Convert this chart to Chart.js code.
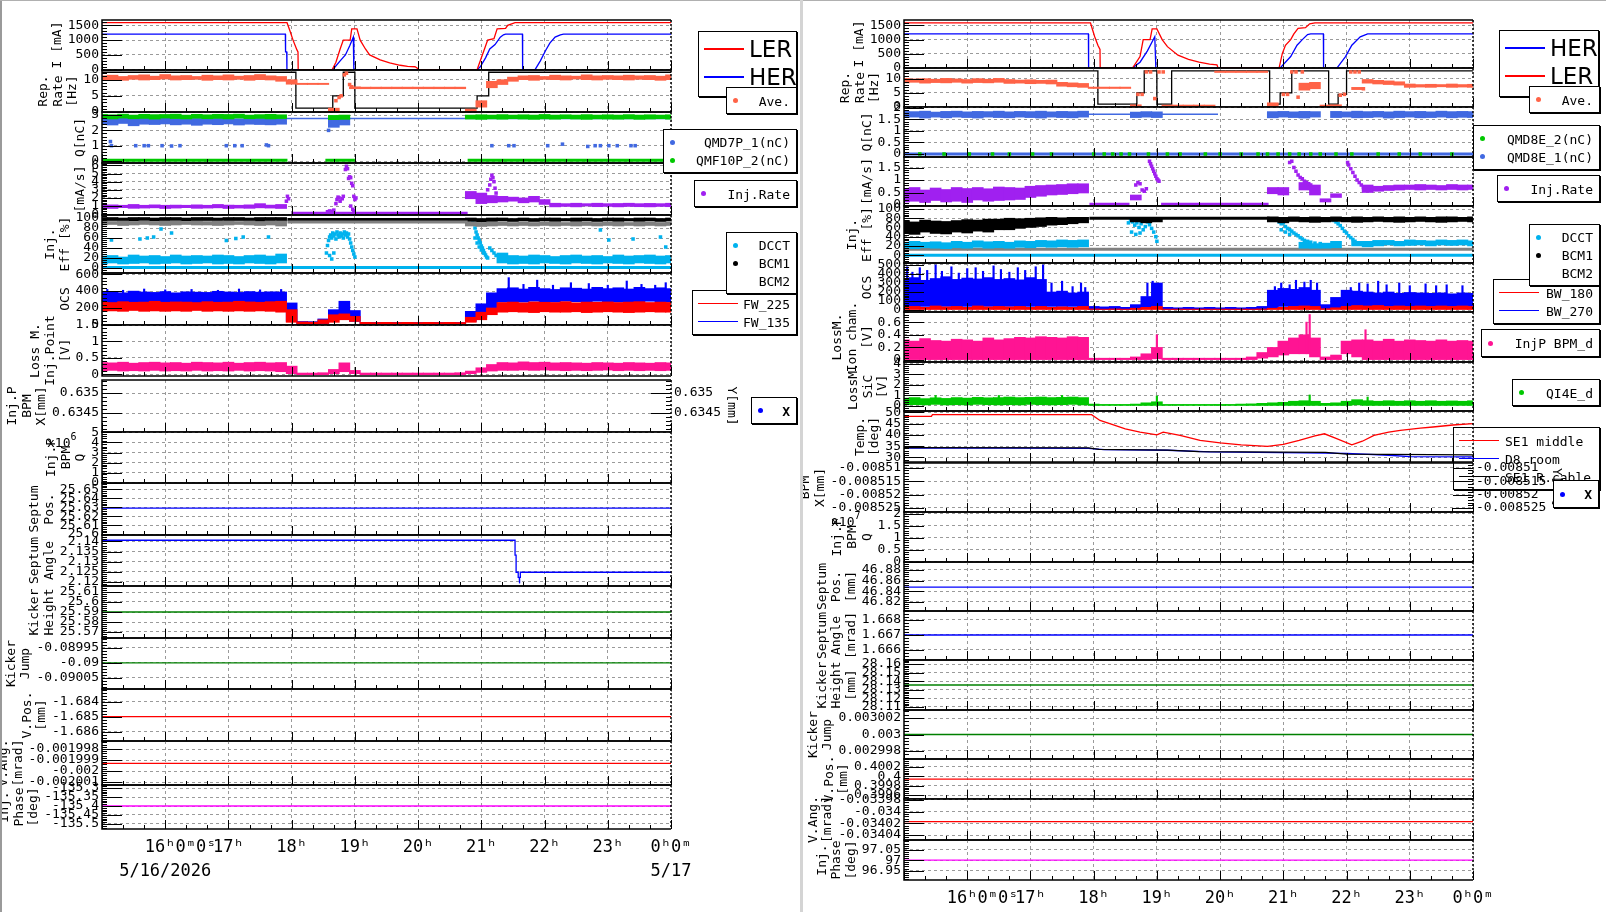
<!DOCTYPE html>
<html>
<head>
<meta charset="utf-8">
<script src="https://cdn.jsdelivr.net/npm/chart.js@4.4.1/dist/chart.umd.min.js"></script>
<style>
  html, body { margin: 0; padding: 0; background: #fff; width: 1606px; height: 912px; overflow: hidden; }
  .col { position: absolute; top: 0; height: 912px; overflow: hidden; }
  .col canvas { position: absolute; }
  .lg { position: absolute; background: #fff; border: 1px solid #000; box-shadow: 1px 1px 0 #000; box-sizing: border-box; color: #000; }
  .lg.clear { background: transparent; }
  .lg span { position: absolute; transform: translateY(-50%); white-space: nowrap; line-height: 1; }
  .lg .sm { font: 13px 'DejaVu Sans Mono', monospace; }
  .lg .big { font: 23px 'DejaVu Sans', sans-serif; }
  .lg .mk { position: absolute; }
  .ann { position: absolute; font: 13px 'DejaVu Sans Mono', monospace; color: #000; line-height: 1; }
  .ann sup { font-size: 10px; vertical-align: top; position: relative; top: -4px; }
</style>
</head>
<body>
<div style="position:absolute;left:0;top:0;width:2px;height:912px;background:#9a9a9a"></div>
<div style="position:absolute;left:0;top:0;width:1606px;height:1px;background:#b0b0b0"></div>
<div style="position:absolute;left:800px;top:0;width:3px;height:912px;background:#d4d4d4"></div>
<div class="col" id="colL" style="left:2px;width:798px"></div>
<div class="col" id="colR" style="left:803px;width:803px"></div>
<div class="ann" style="left:47px;top:436px">x10<sup>6</sup></div>
<div class="ann" style="left:831px;top:515px">x10<sup>7</sup></div>
<script>
// time axis: minutes after 15:00 on 5/16
const startHour = 15;
const dateFirst = '5/16/2026';
const dateLast = '5/17';
const T10 = [0,10,20,30,40,50,60,70,80,90,100,110,120,130,140,150,160,170,180,190,200,210,220,230,240,250,260,270,280,290,300,310,320,330,340,350,360,370,380,390,400,410,420,430,440,450,460,470,480,490,500,510,520,530,540];

// ---------- left column ----------
const lerL = [[0,1590],[175.6,1590],[178.5,1300],[181.3,1000],[185,670],[186,600],[186.2,0],[218.4,0],[222,250],[226,700],[229,1000],[235.5,1000],[237,1380],[242,1380],[245,1000],[250,700],[254,500],[264,330],[273,230],[283,150],[290,110],[297,100],[299,60],[300,0],[356,0],[359,300],[363,700],[366,1000],[372,1050],[375,1380],[383,1400],[385,1500],[392,1590],[540,1590]];
const herL = [[0,1200],[174,1200],[174.2,600],[175.3,600],[175.5,0],[219,0],[226,300],[231,500],[235,800],[238.5,1100],[239,0],[356,0],[359,100],[364,400],[368,700],[373,850],[378,1100],[381,1180],[383,1200],[399,1200],[399.2,0],[411,0],[416,300],[421,650],[425,900],[430,1100],[435,1180],[438,1200],[540,1200]];

const repAveL = [
  [9.9,11.2],[10.0,11.4],[9.8,11.0],[10.1,11.3],[9.9,11.5],[10.0,11.1],[10.2,11.6],[9.9,11.2],[10.0,11.3],[10.1,11.0],
  [9.8,11.4],[10.0,11.2],[9.9,11.5],[10.1,11.1],[9.8,11.3],[10.0,11.6],[9.9,11.2],[9.5,11.0],[8.6,10.0],[8.5,8.9],
  [8.5,8.9],[8.5,8.9],[0.2,1.2],null,[7.2,7.8],[7.2,7.7],[7.2,7.7],[7.2,7.7],[7.2,7.7],[7.2,7.7],
  [7.2,7.7],[7.2,7.7],[7.2,7.7],[7.2,7.7],[7.2,7.7],[0.2,0.9],[1.5,3.5],[7.5,9.5],[8.5,10.0],[9.5,10.8],
  [10.0,11.2],[9.8,11.3],[10.1,11.0],[10.0,11.4],[9.9,11.2],[10.2,11.1],[10.0,11.5],[9.9,11.2],[10.1,11.3],[10.0,11.2],
  [9.9,11.4],[10.1,11.2],[10.0,11.3],[9.8,11.1],[10.0,11.5]];
const repDotsL = [[222,3.5],[225,4.5],[227,5],[230,11.5],[232,12],[235,8.5],[237,7.8]];
const repStepL = [[0,12.3],[184,1.2],[219,5],[229,12.3],[240,1.2],[356,5],[367,12.3],[540,12.3]];

const qGreenL = [
  [2.78,3.05],[2.75,3.02],[2.8,3.06],[2.76,3.0],[2.78,3.05],[2.74,3.03],[2.8,3.04],[2.77,3.06],[2.75,3.0],[2.79,3.05],
  [2.76,3.02],[2.78,3.05],[2.75,3.04],[2.8,3.06],[2.76,3.0],[2.78,3.03],[2.75,3.05],[2.77,3.02],null,null,
  null,null,[2.7,2.98],[2.72,3.0],null,null,null,null,null,null,
  null,null,null,null,null,[2.74,3.0],[2.72,3.02],[2.75,3.0],[2.73,3.03],[2.76,3.0],
  [2.74,3.02],[2.72,3.0],[2.75,3.04],[2.73,3.0],[2.76,3.02],[2.74,3.0],[2.72,3.03],[2.75,3.0],[2.74,3.02],[2.73,3.0],
  [2.75,3.03],[2.72,3.0],[2.74,3.02],[2.76,3.0],[2.73,3.02]];
const qBlueL = [
  [2.4,2.8],[2.35,2.78],[2.45,2.8],[2.3,2.76],[2.4,2.8],[2.38,2.78],[2.42,2.8],[2.36,2.77],[2.4,2.8],[2.33,2.78],
  [2.4,2.8],[2.37,2.78],[2.42,2.8],[2.35,2.76],[2.4,2.8],[2.38,2.78],[2.36,2.8],[2.4,2.78],null,null,
  null,null,[2.2,2.8],[2.35,2.8],null,null,null,null,null,null,
  null,null,null,null,null,null,null,null,null,null,
  null,null,null,null,null,null,null,null,null,null,
  null,null,null,null,null];
const qBlueLineL = [[175,2.78],[540,2.78]];
const qZeroL = [[0,0.05],[176,0.05],[176.5,null],[212,0.05],[240,0.05],[240.5,null],[347,0.05],[540,0.05]];
const qDotsL = [[8,1.27],[9,1.0],[32,1.0],[40,1.0],[44,1.0],[57,1.0],[66,0.98],[74,1.0],[118,1.0],[126,1.0],[133,1.0],[156,1.05],[158,1.0],[215,2.0],[370,1.0],[386,1.0],[391,1.0],[423,1.0],[437,1.1],[461,0.95],[468,1.0],[473,1.0],[481,1.0],[489,1.0],[502,1.0],[506,1.0],[536,1.0]];

const injL = [
  [0.75,1.1],[0.7,1.15],[0.8,1.1],[0.72,1.2],[0.75,1.1],[0.78,1.15],[0.7,1.1],[0.75,1.12],[0.8,1.1],[0.72,1.15],
  [0.75,1.1],[0.78,1.2],[0.7,1.12],[0.75,1.1],[0.72,1.15],[0.78,1.3],[0.75,1.12],[0.7,1.2],null,null,
  null,null,null,null,null,null,null,null,null,null,
  null,null,null,null,null,[1.9,2.8],[1.3,2.6],[1.4,2.3],[1.5,2.2],[1.6,2.1],
  [1.4,2.0],[1.5,2.2],[1.2,1.8],[0.9,1.35],[0.95,1.3],[0.9,1.35],[1.0,1.3],[0.92,1.35],[0.95,1.3],[0.9,1.32],
  [0.95,1.35],[0.92,1.3],[0.9,1.33],[0.95,1.3],[0.92,1.35]];
const injDotsL = [[175,1.6],[176,2.2],[177,1.9],[214,0.3],[216,0.4],[218,0.35],[220,0.5],[222,1.3],[223,1.8],[224,2.1],[225,2.0],[226,1.6],[228,1.9],[229,2.2],[231,5.5],[232,5.9],[233,5.6],[234,4.4],[235,4.6],[236,4.5],[237,3.8],[238,3.5],[239,2.2],[240,1.8],[241,2.0],[236,1.0],[238,0.6],[239,0.4],[366,3.0],[368,3.6],[369,4.3],[370,4.8],[371,4.5],[372,4.0],[373,3.2],[374,2.6]];
const injLineL = [[180,0.15],[347,0.15]];

const effBlackL = [
  [94,101],[95,101],[93,100],[94,101],[95,101],[94,100],[93,101],[95,101],[94,100],[94,101],
  [95,101],[93,100],[94,101],[95,101],[94,100],[93,101],[94,101],[93,101],null,null,
  null,null,null,null,null,null,null,null,null,null,
  null,null,null,null,null,[93,100],[92,99],[93,100],[94,100],[93,99],
  [94,100],[93,99],[94,100],[93,100],[94,99],[93,100],[94,100],[93,99],[94,100],[93,100],
  [94,99],[93,100],[94,100],[93,99],[94,100]];
const effGrayL = [
  [86,94],[87,93],[85,94],[86,93],[87,94],[86,93],[85,94],[86,94],[87,93],[86,94],
  [86,93],[85,94],[86,94],[87,93],[86,94],[85,93],[86,94],[84,94],null,null,
  null,null,null,null,null,null,null,null,null,null,
  null,null,null,null,null,[84,92],[83,91],[84,92],[85,92],[84,91],
  [85,92],[84,91],[85,92],[84,92],[85,91],[84,92],[85,92],[84,91],[85,92],[84,92],
  [85,91],[84,92],[85,92],[84,91],[85,92]];
const effCyanL = [
  [8,24],[10,25],[8,22],[9,26],[10,24],[8,25],[9,23],[10,26],[8,24],[9,25],
  [10,24],[8,26],[9,25],[8,23],[10,25],[9,26],[8,24],[10,28],null,null,
  null,null,null,null,null,null,null,null,null,null,
  null,null,null,null,null,null,null,null,[10,30],[8,25],
  [9,24],[8,26],[10,25],[9,23],[8,25],[10,26],[9,24],[8,25],[10,23],[9,26],
  [8,24],[10,25],[9,26],[8,24],[10,25]];
const effBlackLineL = [[176,97],[347,97]];
const effGrayLineL = [[176,92],[347,92]];
const effCyanZeroL = [[0,1],[540,1]];
const effCyanDotsL = [[9,56],[36,58],[43,60],[49,62],[56,78],[66,70],[118,55],[127,59],[134,62],[158,62],
  [213,30],[214,45],[215,55],[216,62],[217,66],[218,60],[219,70],[220,64],[221,68],[222,58],[223,72],[224,66],[225,62],[226,70],[227,64],[228,68],[229,60],[230,72],[231,66],[232,70],[233,62],[234,68],[235,58],[236,50],[237,42],[238,35],[239,28],[240,22],[216,25],[218,18],[220,30],
  [352,95],[353,88],[354,80],[355,72],[356,66],[357,60],[358,55],[359,50],[360,44],[361,40],[362,35],[363,30],[364,26],[365,22],[366,20],[354,60],[356,50],[358,42],[360,36],[362,30],[368,40],[370,35],[372,30],[374,25],
  [473,76],[481,56],[504,58],[530,62],[535,42]];

const ocsBlueL = [
  [250,385],[255,395],[255,380],[260,400],[262,390],[270,385],[260,395],[265,380],[262,392],[260,388],
  [265,385],[260,398],[262,390],[270,385],[265,395],[260,388],[265,392],[270,390],[40,260],[10,40],
  [10,38],[15,70],[60,180],[100,280],[40,170],[10,30],[10,28],[10,30],[10,28],[10,30],
  [10,28],[10,30],[10,28],[10,30],[10,28],[40,160],[90,250],[200,380],[270,430],[275,440],
  [270,425],[280,445],[275,430],[270,420],[280,440],[275,435],[270,425],[280,445],[275,430],[270,440],
  [275,425],[270,445],[280,430],[275,440],[270,430]];
const ocsRedL = [
  [160,270],[165,265],[160,275],[170,268],[160,270],[165,280],[160,268],[165,272],[160,270],[170,265],
  [160,275],[165,268],[160,270],[165,280],[160,272],[165,268],[160,275],[150,280],[30,180],[10,35],
  [10,32],[15,60],[30,120],[60,130],[40,100],[10,30],[10,28],[10,30],[10,28],[10,30],
  [10,28],[10,30],[10,28],[10,30],[10,28],[30,90],[60,150],[120,200],[150,265],[155,270],
  [150,262],[145,272],[155,268],[150,265],[150,275],[155,262],[145,270],[150,268],[155,272],[150,265],
  [145,270],[150,275],[155,265],[150,270],[150,266]];
const ocsSpikesL = [[5,420],[20,410],[40,425],[60,415],[85,420],[110,410],[130,425],[150,415],[170,420],[386,560],[400,480],[413,530],[428,470],[445,500],[462,490],[480,470],[498,520],[512,480],[525,470],[535,500]];
const ocsSpikeBaseL = 350;

const lossL = [
  [0.1,0.36],[0.12,0.35],[0.1,0.37],[0.11,0.34],[0.1,0.36],[0.12,0.37],[0.1,0.35],[0.11,0.36],[0.1,0.34],[0.12,0.37],
  [0.1,0.36],[0.11,0.35],[0.1,0.37],[0.12,0.34],[0.1,0.36],[0.11,0.37],[0.1,0.35],[0.08,0.36],[0.02,0.25],[-0.01,0.04],
  [-0.01,0.04],[-0.01,0.05],[0.02,0.15],[0.08,0.35],[0.02,0.12],[-0.01,0.04],[-0.01,0.04],[-0.01,0.04],[-0.01,0.04],[-0.01,0.04],
  [-0.01,0.04],[-0.01,0.04],[-0.01,0.04],[-0.01,0.04],[-0.01,0.05],[0.02,0.1],[0.06,0.2],[0.1,0.3],[0.12,0.36],[0.12,0.35],
  [0.13,0.38],[0.12,0.36],[0.13,0.37],[0.12,0.35],[0.11,0.36],[0.12,0.35],[0.11,0.34],[0.12,0.36],[0.13,0.35],[0.11,0.34],
  [0.12,0.36],[0.11,0.35],[0.12,0.34],[0.11,0.36],[0.12,0.35]];

const sepPosL = 25.629;
const sepAngL = [[0,2.1406],[392,2.1406],[392,2.1333],[393,2.1333],[393,2.1248],[395,2.1248],[395,2.1223],[396,2.1223],[396.2,2.1193],[396.4,2.1223],[397,2.1223],[397,2.1248],[540,2.1248]];
const kickHL = 25.59;
const kickJL = -0.09;
const vPosL = -1.685;
const vAngL = -0.0019993;
const phaseL = -135.4;

// ---------- right column ----------
const herR = [[0,1200],[175,1200],[175.2,0],[217,0],[224,200],[231,600],[238,1100],[239,0],[357,0],[367,400],[373,800],[378,1000],[383,1180],[386,1200],[398,1200],[398.2,0],[411,0],[419,400],[425,800],[433,1100],[440,1200],[540,1200]];
const lerR = [[0,1590],[177,1590],[178.5,1400],[181,1100],[184,800],[186,650],[186.2,0],[217,0],[224,400],[227,1000],[233.5,1000],[235.5,1380],[240,1380],[245,1000],[250,750],[260,450],[270,300],[280,200],[290,130],[297,110],[298,0],[356,0],[359,500],[362,800],[367,1000],[370,1200],[374,1400],[381,1420],[385,1560],[390,1590],[540,1590]];

const repAveR = [
  [8.6,10.2],[8.8,10.0],[8.5,10.1],[8.7,9.9],[8.6,10.2],[8.8,10.0],[8.5,9.8],[8.7,10.1],[8.6,9.9],[8.8,10.2],
  [8.4,9.8],[8.5,9.6],[8.3,9.7],[8.4,9.5],[8.2,9.6],[7.4,8.8],[7.2,8.6],[7.0,8.4],[6.6,7.1],[6.6,7.1],
  [6.6,7.1],[6.6,7.1],[0.2,0.8],null,null,[0.3,0.7],[0.3,0.7],[0.3,0.7],[0.3,0.7],[0.3,0.7],
  [12.3,12.8],[12.3,12.8],[12.3,12.8],[12.3,12.8],[12.3,12.8],[0.2,1.5],null,null,[6.0,8.5],[6.5,8.8],
  [0.3,0.7],[0.3,0.8],null,[6.2,7.0],[8.5,9.8],[8.2,9.5],[8.0,9.3],[7.8,9.0],[7.0,8.2],[7.1,8.0],
  [7.0,8.1],[7.2,8.0],[7.0,8.2],[7.1,8.0],[7.0,8.1]];
const repDotsR = [[222,4.5],[226,4.5],[230,12.5],[234,12.5],[238,3],[242,12.5],[246,12.5],[360,4.5],[364,4.5],[368,12.5],[372,12.5],[374,3.5],[378,12.5],[414,4.2],[418,4.5],[424,12.5],[428,12.5],[432,12.5],[436,6.5]];
const repStepR = [[0,12.9],[184,1],[221,5],[228,12.9],[240,1],[254,12.9],[347,1],[357,5],[368,12.9],[403,1],[412,4.5],[420,12.9],[540,12.9]];

const qBlueR = [
  [1.58,1.85],[1.6,1.84],[1.56,1.86],[1.6,1.82],[1.57,1.85],[1.6,1.86],[1.58,1.83],[1.56,1.85],[1.6,1.84],[1.58,1.86],
  [1.57,1.83],[1.6,1.85],[1.58,1.84],[1.56,1.86],[1.6,1.83],[1.58,1.85],[1.57,1.84],[1.6,1.86],null,null,
  null,null,[1.58,1.82],[1.6,1.84],[1.58,1.83],null,null,null,null,null,
  null,null,null,null,null,[1.57,1.84],[1.6,1.85],[1.58,1.83],[1.56,1.85],[1.6,1.84],
  null,[1.58,1.85],[1.6,1.83],[1.57,1.86],[1.58,1.84],[1.6,1.85],[1.56,1.83],[1.58,1.86],[1.6,1.84],[1.57,1.85],
  [1.58,1.83],[1.6,1.86],[1.57,1.84],[1.59,1.85],[1.58,1.84]];
const qBlueLineR = [[175,1.72],[298,1.72]];
const qZeroBlueR = [[0,0],[540,0]];
const qZeroGreenR = [[15,0],[38,0],[62,0],[84,0],[100,0],[122,0],[140,0],[180,0],[190,0],[198,0],[206,0],[214,0],[232,0],[250,0],[262,0],[286,0],[300,0],[320,0],[336,0],[345,0],[355,0],[366,0],[375,0],[386,0],[395,0],[410,0],[425,0],[450,0],[470,0],[490,0],[520,0]];

const injR = [
  [0.12,0.65],[0.15,0.7],[0.1,0.6],[0.18,0.68],[0.12,0.62],[0.15,0.7],[0.1,0.66],[0.2,0.7],[0.15,0.65],[0.18,0.72],
  [0.2,0.7],[0.22,0.68],[0.3,0.75],[0.35,0.78],[0.4,0.8],[0.42,0.82],[0.45,0.85],[0.48,0.85],null,null,
  null,null,[0.2,0.4],null,null,null,null,null,null,null,
  null,null,null,null,null,[0.45,0.7],[0.4,0.7],null,[0.6,0.9],[0.4,0.8],
  [0.12,0.25],[0.3,0.45],null,null,[0.5,0.8],[0.55,0.75],[0.58,0.78],[0.6,0.8],[0.62,0.8],[0.6,0.82],
  [0.62,0.8],[0.6,0.78],[0.62,0.82],[0.6,0.8],[0.62,0.8]];
const injDotsR = [[220,0.8],[222,0.9],[224,0.85],[226,0.6],[228,0.55],[230,0.65],[233,1.75],[234,1.65],[235,1.55],[236,1.45],[237,1.35],[238,1.25],[239,1.15],[240,1.05],[241,1.0],[242,0.95],[366,1.7],[368,1.75],[370,1.5],[372,1.35],[374,1.2],[376,1.1],[378,1.05],[380,0.95],[382,0.9],[384,0.85],[386,0.8],[421,1.7],[422,1.6],[424,1.45],[426,1.3],[428,1.15],[430,1.0],[432,0.9],[434,0.8],[436,0.7],[438,0.65],[440,0.6]];
const injLineR = [[176,0.04],[214,0.04],[214.5,null],[244,0.04],[346,0.04]];

const effBlackR = [
  [48,75],[45,72],[50,76],[47,74],[46,73],[50,75],[48,77],[52,76],[50,78],[55,78],
  [55,80],[58,79],[60,80],[62,81],[65,82],[66,81],[68,82],[70,82],null,null,
  null,null,[72,82],[70,80],[72,82],null,null,null,null,null,
  null,null,null,null,null,[72,83],[70,82],[73,83],[72,82],[71,83],
  [72,82],[73,83],[72,82],[71,83],[72,82],[73,83],[72,82],[71,83],[72,82],[73,83],
  [72,82],[71,83],[72,83],[73,82],[72,83]];
const effBlackLineR = [[176,80],[347,80]];
const effGrayR = [[0,13],[540,13]];
const effCyanR = [
  [15,28],[14,30],[16,28],[15,29],[14,27],[16,30],[15,28],[17,31],[15,29],[16,30],
  [15,28],[17,31],[16,30],[18,32],[17,31],[18,33],[17,32],[18,33],null,null,
  null,null,null,null,null,null,null,null,null,null,
  null,null,null,null,null,null,null,null,[15,28],[15,25],
  [15,26],[16,30],null,[20,30],[18,30],[20,32],[22,32],[20,30],[21,33],[22,32],
  [20,31],[22,33],[21,32],[22,33],[20,31]];
const effCyanDotsR = [[213,70],[215,75],[217,72],[219,65],[221,70],[223,60],[225,68],[227,55],[229,62],[231,72],[233,66],[235,58],[237,50],[239,40],[240,30],[216,50],[220,45],[224,48],
  [354,76],[356,72],[358,68],[360,70],[362,62],[364,58],[366,55],[368,52],[370,48],[372,45],[374,42],[376,38],[378,35],[380,32],[383,30],[386,28],[390,26],[395,25],[358,55],[362,50],[366,45],
  [408,75],[410,72],[412,68],[414,64],[416,58],[418,52],[420,48],[422,42],[424,38],[426,34],[428,30]];
const effCyanZeroR = [[0,0],[540,0]];

const ocsBlueR = [
  [40,340],[40,360],[40,330],[40,350],[40,370],[40,340],[40,355],[40,345],[40,360],[40,340],
  [40,350],[40,335],[40,360],[40,340],[40,200],[40,210],[40,190],[40,200],[5,40],[5,35],
  [5,40],[5,30],[10,60],[20,150],[40,300],[5,30],[5,25],[5,30],[5,25],[5,30],
  [5,25],[5,30],[5,25],[5,30],[5,40],[20,220],[40,240],[40,230],[40,250],[30,220],
  [10,60],[20,140],[40,220],[40,210],[40,200],[40,190],[40,200],[40,185],[40,195],[40,190],
  [40,185],[40,190],[40,180],[40,190],[40,185]];
const ocsRedR = [
  [0,35],[0,40],[0,30],[0,45],[0,35],[0,40],[0,30],[0,45],[0,35],[0,40],
  [0,35],[0,40],[0,30],[0,40],[0,30],[0,35],[0,30],[0,40],[0,12],[0,10],
  [0,12],[0,10],[0,20],[0,30],[0,40],[0,10],[0,10],[0,10],[0,10],[0,10],
  [0,10],[0,10],[0,10],[0,10],[0,12],[0,20],[0,30],[0,40],[0,45],[0,40],
  [0,15],[0,25],[0,40],[0,50],[0,45],[0,50],[0,40],[0,45],[0,40],[0,45],
  [0,40],[0,45],[0,40],[0,45],[0,40]];
const ocsSpikesR = [[3,480],[8,420],[15,470],[22,440],[30,500],[36,430],[45,480],[52,410],[60,460],[68,470],[75,430],[85,490],[92,450],[100,420],[108,470],[115,440],[125,480],[132,500],[140,300],[150,320],[160,260],[168,300],[172,250],[231,300],[236,320],[238,290],[352,260],[358,300],[366,280],[372,330],[380,310],[386,330],[392,300],[424,250],[432,300],[440,290],[450,320],[458,280],[470,300],[480,270],[495,290],[505,270],[515,280],[530,270]];
const ocsSpikeBaseR = 150;

const ionR = [
  [0,0.32],[0,0.3],[0,0.34],[0,0.31],[0,0.3],[0,0.33],[0,0.32],[0,0.3],[0,0.35],[0,0.32],
  [0,0.34],[0,0.36],[0,0.35],[0,0.37],[0,0.36],[0,0.35],[0,0.37],[0,0.36],[0,0.03],[0,0.03],
  [0,0.03],[0,0.03],[0,0.05],[0,0.1],[0.02,0.2],[0,0.03],[0,0.03],[0,0.03],[0,0.03],[0,0.03],
  [0,0.03],[0,0.03],[0,0.03],[0,0.05],[0.03,0.12],[0.05,0.2],[0.08,0.3],[0.1,0.35],[0.1,0.4],[0.05,0.35],
  [0,0.05],[0,0.08],[0.1,0.3],[0.05,0.32],[0,0.32],[0,0.3],[0,0.33],[0,0.3],[0,0.32],[0,0.31],
  [0,0.3],[0,0.32],[0,0.3],[0,0.31],[0,0.3]];
const ionSpikesR = [[240,0.4],[382,0.6],[385,0.72],[438,0.48]];
const ionSpikeBaseR = 0.1;

const sicR = [
  [0.1,0.75],[0.12,0.8],[0.1,0.7],[0.15,0.78],[0.1,0.72],[0.12,0.8],[0.1,0.75],[0.15,0.82],[0.12,0.78],[0.1,0.8],
  [0.12,0.85],[0.1,0.8],[0.15,0.82],[0.12,0.85],[0.1,0.8],[0.12,0.82],[0.15,0.85],[0.1,0.8],[0,0.18],[0,0.15],
  [0,0.15],[0,0.15],[0,0.18],[0,0.3],[0,0.4],[0,0.15],[0,0.15],[0,0.15],[0,0.15],[0,0.15],
  [0,0.15],[0,0.15],[0,0.18],[0,0.2],[0,0.25],[0,0.3],[0.05,0.35],[0.05,0.45],[0.05,0.5],[0.05,0.45],
  [0,0.25],[0,0.3],[0.05,0.45],[0.1,0.6],[0.05,0.5],[0.05,0.45],[0.05,0.5],[0.05,0.45],[0.05,0.5],[0.05,0.45],
  [0.05,0.5],[0.05,0.45],[0.05,0.48],[0.05,0.45],[0.05,0.5]];
const sicSpikesR = [[30,1.0],[90,1.0],[150,1.0],[240,0.95],[385,1.05],[440,0.85]];
const sicSpikeBaseR = 0.2;

const tempRedR = [[0,48.2],[26,48.2],[27,49],[178,49],[186,46.4],[196,44.9],[210,42.7],[224,41.2],[240,40],[246,41.2],[262,39.8],[281,37.6],[300,36.5],[320,35.6],[345,34.9],[360,35.8],[375,37.6],[390,39.6],[399,40.5],[410,38.5],[425,35.6],[435,37.2],[446,39.8],[460,41.2],[471,42],[490,43],[502,43.5],[521,44.4],[540,45]];
const tempBlueR = [[0,34.2],[100,34.2],[175,34],[190,33.5],[250,33.2],[290,32.5],[380,32],[420,31.8],[460,31],[480,30.4],[540,30.3]];
const tempBlackR = [[0,34.4],[175,34.3],[185,33.6],[250,33.3],[280,32.6],[400,32.3],[420,31.5],[540,31.2]];

const sepPosR = 46.848;
const sepAngR = 1.667;
const kickHR = 28.1356;
const kickJR = 0.003;
const vPosR = 0.39994;
const vAngR = -0.034017;
const phaseR = 97;

// ---------- styling ----------
const RED = '#ff0000', BLUE = '#0000ff', ORANGE = '#ff6347', QBLUE = '#4169e1', QGREEN = '#00c800';
const PURPLE = '#a020f0', CYAN = '#00b2ee', GRAYB = '#808080', PINK = '#ff1493', KGREEN = '#008000', MAG = '#ff00ff';
const GRID = '#9a9a9a';
const PAD = 12, XH = 60, LH = 13 * 1.12, CW = 7.83;

Chart.defaults.font.family = "'DejaVu Sans Mono', monospace";
Chart.defaults.font.size = 13;
Chart.defaults.color = '#000';

const pts = a => a.map(([x, y]) => ({x, y}));
const flat = v => [[0, v], [540, v]];
const band = (arr, color) => ({type: 'bar', data: T10.map((m, i) => arr[i] ? {x: m, y: arr[i]} : null).filter(Boolean),
  backgroundColor: color, barThickness: 11, grouped: false, borderWidth: 0});
const spikes = (arr, base, color) => ({type: 'bar', data: arr.map(([x, y]) => ({x, y: [base, y]})),
  backgroundColor: color, barThickness: 1.5, grouped: false, borderWidth: 0});
const line = (arr, color, w = 1.3) => ({type: 'line', data: pts(arr), borderColor: color, borderWidth: w, pointRadius: 0, spanGaps: false});
const step = (arr, color) => ({...line(arr, color, 1.3), stepped: 'before'});
const dots = (arr, color) => ({type: 'line', data: pts(arr), showLine: false, pointStyle: 'rect', pointRadius: 2.5,
  pointBackgroundColor: color, pointBorderWidth: 0});

function fmt(v) {
  const r = parseFloat(Number(v).toPrecision(10));
  return Object.is(r, -0) ? '0' : String(r);
}
function tickValues(min, max, st) {
  const out = [];
  for (let k = Math.ceil(min / st - 1e-6); k <= Math.floor(max / st + 1e-6); k++) out.push(parseFloat((k * st).toPrecision(12)));
  return out;
}
function xLabel(v) {
  const h = (startHour + v / 60) % 24;
  if (v === 60) return ['   ' + h + 'ʰ0ᵐ0ˢ', dateFirst];
  if (v === 540) return [h + 'ʰ0ᵐ', dateLast];
  return h + 'ʰ';
}

// inward ticks and the panel frame
const frame = {
  id: 'frame',
  afterDatasetsDraw(chart) {
    const {ctx, chartArea: a, scales} = chart;
    ctx.save();
    ctx.strokeStyle = '#000';
    ctx.lineWidth = 1;
    ctx.beginPath();
    for (let m = 0; m <= 540; m += 20) {
      const px = Math.round(scales.x.getPixelForValue(m)) + 0.5;
      const len = m % 60 === 0 ? 9 : 4;
      ctx.moveTo(px, a.bottom); ctx.lineTo(px, a.bottom - len);
    }
    for (const s of [scales.y, scales.y2]) {
      if (!s) continue;
      const sub = s.options.ticks.stepSize / 5;
      const right = s.position === 'right';
      const edge = right ? a.right : a.left, dir = right ? -1 : 1;
      const k0 = Math.ceil(s.min / sub - 1e-6), k1 = Math.floor(s.max / sub + 1e-6);
      for (let k = k0; k <= k1; k++) {
        const py = Math.round(s.getPixelForValue(k * sub)) + 0.5;
        const len = ((k % 5) + 5) % 5 === 0 ? 20 : 5;
        ctx.moveTo(edge, py); ctx.lineTo(edge + dir * len, py);
      }
    }
    ctx.stroke();
    ctx.lineWidth = 1.5;
    ctx.beginPath();
    ctx.moveTo(a.right, a.top); ctx.lineTo(a.left, a.top); ctx.lineTo(a.left, a.bottom); ctx.lineTo(a.right, a.bottom);
    ctx.stroke();
    ctx.setLineDash([2, 2]);
    ctx.beginPath(); ctx.moveTo(a.right, a.top); ctx.lineTo(a.right, a.bottom); ctx.stroke();
    ctx.restore();
  }
};

function yAxis(p, pos, w, title) {
  const values = tickValues(p.min, p.max, p.step);
  return {
    type: 'linear', position: pos, min: p.min, max: p.max,
    afterBuildTicks: s => { s.ticks = values.map(value => ({value})); },
    afterFit: s => { s.width = w; },
    ticks: {stepSize: p.step, autoSkip: false, includeBounds: false, padding: 3, callback: v => fmt(v)},
    grid: {display: pos === 'left', color: GRID, drawTicks: false},
    border: {display: false, dash: [3, 3]},
    title: {display: true, text: title, padding: 0, font: {size: 13, lineHeight: 1.12}}
  };
}

function makePanel(col, p, last, g) {
  const c = document.createElement('canvas');
  const h = (p.bot - p.top) + PAD + (last ? XH : PAD);
  c.width = g.cw; c.height = h;
  c.style.left = '-40px'; c.style.top = (p.top - PAD) + 'px';
  col.appendChild(c);
  const maxLen = Math.max(...tickValues(p.min, p.max, p.step).map(v => fmt(v).length));
  const W = p.title.length * LH + maxLen * CW + 6;
  const Wr = p.right ? maxLen * CW + 6 + LH : 0;
  const scales = {
    x: {
      type: 'linear', min: 0, max: 540, offset: false,
      afterBuildTicks: s => { s.ticks = s.ticks.filter(t => t.value > 0); },
      afterFit: s => { s.height = last ? XH : 0; },
      ticks: {display: last, stepSize: 60, autoSkip: false, maxRotation: 0, padding: 7,
        font: {size: 17, lineHeight: 1.4}, callback: xLabel},
      grid: {color: GRID, drawTicks: false, offset: false},
      border: {display: false, dash: [3, 3]}
    },
    y: yAxis(p, 'left', W, p.title)
  };
  if (p.right) scales.y2 = yAxis(p, 'right', Wr, p.right);
  const n = p.sets.length;
  new Chart(c, {
    type: 'bar',
    data: {datasets: p.sets.map((d, i) => ({...d, order: n - i, yAxisID: 'y'}))},
    options: {
      responsive: false, animation: false, events: [], devicePixelRatio: 1,
      layout: {padding: {left: g.pl - W, right: g.cw - g.pr - Wr, top: PAD, bottom: last ? 0 : PAD}},
      plugins: {legend: {display: false}, tooltip: {enabled: false}},
      scales
    },
    plugins: [frame]
  });
}

const panelsL = [
  {top: 20, bot: 70, min: -10, max: 1680, step: 500, title: ['I [mA]'], sets: [line(herL, BLUE), line(lerL, RED)]},
  {top: 70, bot: 112, min: 0, max: 13, step: 5, title: ['Rep.', 'Rate', '[Hz]'], sets: [step(repStepL, '#000'), band(repAveL, ORANGE), dots(repDotsL, ORANGE)]},
  {top: 112, bot: 163, min: -0.13, max: 3.2, step: 1, title: ['Q[nC]'], sets: [band(qBlueL, QBLUE), line(qBlueLineL, QBLUE, 1.5), band(qGreenL, QGREEN), line(qZeroL, QGREEN, 3), dots(qDotsL, QBLUE)]},
  {top: 163, bot: 215, min: -0.1, max: 6.3, step: 1, title: ['[mA/s]'], sets: [line(injLineL, PURPLE, 2.5), band(injL, PURPLE), dots(injDotsL, PURPLE)]},
  {top: 215, bot: 273, min: -10, max: 106, step: 20, title: ['Inj.', 'Eff [%]'], sets: [line(effCyanZeroL, CYAN, 3), band(effCyanL, CYAN), dots(effCyanDotsL, CYAN), band(effBlackL, '#000'), line(effBlackLineL, '#000', 3), band(effGrayL, GRAYB), line(effGrayLineL, GRAYB, 3)]},
  {top: 273, bot: 325, min: -2, max: 615, step: 200, title: ['OCS'], sets: [band(ocsBlueL, BLUE), spikes(ocsSpikesL, ocsSpikeBaseL, BLUE), band(ocsRedL, RED)]},
  {top: 325, bot: 376, min: -0.05, max: 1.5, step: 0.5, title: ['Loss M.', 'Inj.Point', '[V]'], sets: [band(lossL, PINK)]},
  {top: 380, bot: 432, min: 0.634025, max: 0.635325, step: 0.0005, title: ['Inj.P', 'BPM', 'X[mm]'], right: ['Y[mm]'], sets: []},
  {top: 432, bot: 483, min: -0.05, max: 5.05, step: 1, title: ['Inj.P', 'BPM', 'Q'], sets: []},
  {top: 483, bot: 535, min: 25.599, max: 25.657, step: 0.01, title: ['Septum', 'Pos.'], sets: [line(flat(sepPosL), BLUE)]},
  {top: 535, bot: 586, min: 2.118, max: 2.1432, step: 0.005, title: ['Septum', 'Angle'], sets: [line(sepAngL, BLUE)]},
  {top: 586, bot: 638, min: 25.564, max: 25.616, step: 0.01, title: ['Kicker', 'Height'], sets: [line(flat(kickHL), KGREEN)]},
  {top: 638, bot: 689, min: -0.090087, max: -0.089917, step: 0.00005, title: ['Kicker', 'Jump'], sets: [line(flat(kickJL), KGREEN)]},
  {top: 689, bot: 741, min: -1.68662, max: -1.68316, step: 0.001, title: ['V.Pos.', '[mm]'], sets: [line(flat(vPosL), RED)]},
  {top: 741, bot: 785, min: -0.00200127, max: -0.00199727, step: 0.000001, title: ['V.Ang.', '[mrad]'], sets: [line(flat(vAngL), RED)]},
  {top: 785, bot: 829, min: -135.528, max: -135.283, step: 0.05, title: ['Inj.', 'Phase', '[deg]'], sets: [line(flat(phaseL), MAG)]}
];

const panelsR = [
  {top: 20, bot: 68, min: -5, max: 1694, step: 500, title: ['I [mA]'], sets: [line(herR, BLUE), line(lerR, RED)]},
  {top: 68, bot: 107, min: 0, max: 13.9, step: 5, title: ['Rep.', 'Rate', '[Hz]'], sets: [step(repStepR, '#000'), band(repAveR, ORANGE), dots(repDotsR, ORANGE)]},
  {top: 107, bot: 157, min: -0.13, max: 2.04, step: 0.5, title: ['Q[nC]'], sets: [line(qZeroBlueR, QBLUE, 3), dots(qZeroGreenR, QGREEN), band(qBlueR, QBLUE), line(qBlueLineR, QBLUE, 1.5)]},
  {top: 157, bot: 206, min: -0.04, max: 1.92, step: 0.5, title: ['[mA/s]'], sets: [line(injLineR, PURPLE, 2.5), band(injR, PURPLE), dots(injDotsR, PURPLE)]},
  {top: 206, bot: 263, min: -17, max: 106.5, step: 20, title: ['Inj.', 'Eff [%]'], sets: [line(effGrayR, GRAYB, 3), line(effCyanZeroR, CYAN, 3), band(effCyanR, CYAN), dots(effCyanDotsR, CYAN), band(effBlackR, '#000'), line(effBlackLineR, '#000', 3)]},
  {top: 263, bot: 312, min: -22, max: 522, step: 100, title: ['OCS'], sets: [band(ocsBlueR, BLUE), spikes(ocsSpikesR, ocsSpikeBaseR, BLUE), band(ocsRedR, RED)]},
  {top: 312, bot: 362, min: -0.03, max: 0.76, step: 0.2, title: ['LossM.', 'Ion cham.', '[V]'], sets: [band(ionR, PINK), spikes(ionSpikesR, ionSpikeBaseR, PINK)]},
  {top: 362, bot: 411, min: -0.48, max: 4.19, step: 1, title: ['LossM.', 'SiC', '[V]'], sets: [band(sicR, QGREEN), spikes(sicSpikesR, sicSpikeBaseR, QGREEN)]},
  {top: 411, bot: 462, min: 28, max: 50.6, step: 5, title: ['Temp.', '[deg]'], sets: [line(tempBlueR, BLUE), line(tempBlackR, '#000'), line(tempRedR, RED)]},
  {top: 463, bot: 512, min: -0.0085265, max: -0.0085082, step: 0.000005, title: ['Inj.P', 'BPM', 'X[mm]'], right: ['Y[mm]'], sets: []},
  {top: 512, bot: 562, min: -0.02, max: 2.08, step: 0.5, title: ['Inj.P', 'BPM', 'Q'], sets: []},
  {top: 562, bot: 611, min: 46.803, max: 46.895, step: 0.02, title: ['Septum', 'Pos.', '[mm]'], sets: [line(flat(sepPosR), BLUE)]},
  {top: 611, bot: 660, min: 1.66533, max: 1.6686, step: 0.001, title: ['Septum', 'Angle', '[mrad]'], sets: [line(flat(sepAngR), BLUE)]},
  {top: 660, bot: 710, min: 28.1065, max: 28.1647, step: 0.01, title: ['Kicker', 'Height', '[mm]'], sets: [line(flat(kickHR), KGREEN)]},
  {top: 710, bot: 759, min: 0.00299703, max: 0.00300297, step: 0.000002, title: ['Kicker', 'Jump'], sets: [line(flat(kickJR), KGREEN)]},
  {top: 759, bot: 799, min: 0.399516, max: 0.400368, step: 0.0002, title: ['V.Pos.', '[mm]'], sets: [line(flat(vPosR), RED)]},
  {top: 799, bot: 840, min: -0.0340485, max: -0.0339783, step: 0.00002, title: ['V.Ang.', '[mrad]'], sets: [line(flat(vAngR), RED)]},
  {top: 840, bot: 880, min: 96.905, max: 97.097, step: 0.05, title: ['Inj.', 'Phase', '[deg]'], sets: [line(flat(phaseR), MAG)]}
];

const colL = document.getElementById('colL');
const colR = document.getElementById('colR');
panelsL.forEach((p, i) => makePanel(colL, p, i === panelsL.length - 1, {cw: 838, pl: 140, pr: 709}));
panelsR.forEach((p, i) => makePanel(colR, p, i === panelsR.length - 1, {cw: 843, pl: 141, pr: 710}));

// legends (boxes to the right of each column)
const legends = [
  {x: 698, y: 31, w: 99, h: 66, big: true, items: [['line', RED, 'LER'], ['line', BLUE, 'HER']]},
  {x: 726, y: 87, w: 71, h: 27, items: [['dot', ORANGE, 'Ave.']]},
  {x: 663, y: 129, w: 134, h: 44, items: [['dot', QBLUE, 'QMD7P_1(nC)'], ['dot', QGREEN, 'QMF10P_2(nC)']]},
  {x: 694, y: 180, w: 103, h: 27, items: [['dot', PURPLE, 'Inj.Rate']]},
  {x: 692, y: 290, w: 105, h: 45, items: [['line', RED, 'FW_225'], ['line', BLUE, 'FW_135']]},
  {x: 726, y: 232, w: 71, h: 62, items: [['dot', CYAN, 'DCCT'], ['dot', '#000', 'BCM1'], ['none', '', 'BCM2']]},
  {x: 751, y: 397, w: 46, h: 27, items: [['dot', BLUE, 'X']], bold: true},
  {x: 1499, y: 30, w: 100, h: 67, big: true, items: [['line', BLUE, 'HER'], ['line', RED, 'LER']]},
  {x: 1529, y: 86, w: 71, h: 27, items: [['dot', ORANGE, 'Ave.']]},
  {x: 1473, y: 125, w: 127, h: 45, items: [['dot', QGREEN, 'QMD8E_2(nC)'], ['dot', QBLUE, 'QMD8E_1(nC)']]},
  {x: 1497, y: 175, w: 103, h: 27, items: [['dot', PURPLE, 'Inj.Rate']]},
  {x: 1493, y: 279, w: 107, h: 45, items: [['line', RED, 'BW_180'], ['line', BLUE, 'BW_270']]},
  {x: 1529, y: 224, w: 71, h: 62, items: [['dot', CYAN, 'DCCT'], ['dot', '#000', 'BCM1'], ['none', '', 'BCM2']]},
  {x: 1481, y: 329, w: 119, h: 28, items: [['dot', PINK, 'InjP BPM_d']]},
  {x: 1512, y: 379, w: 88, h: 27, items: [['dot', QGREEN, 'QI4E_d']]},
  {x: 1453, y: 427, w: 147, h: 63, clear: true, leftText: true, items: [['line', RED, 'SE1 middle'], ['line', BLUE, 'D8 room'], ['line', '#000', 'SE1 R.cable']]},
  {x: 1553, y: 480, w: 46, h: 28, items: [['dot', BLUE, 'X']], bold: true}
];

function addLegend(L) {
  const box = document.createElement('div');
  box.className = 'lg' + (L.clear ? ' clear' : '');
  box.style.left = L.x + 'px'; box.style.top = L.y + 'px';
  box.style.width = L.w + 'px'; box.style.height = L.h + 'px';
  const sp = L.big ? 28 : 18;
  const y0 = L.big ? 17 : (L.h - 2 - sp * (L.items.length - 1)) / 2;
  L.items.forEach(([kind, color, text], i) => {
    const cy = y0 + i * sp;
    if (kind === 'line') {
      const m = document.createElement('div');
      m.className = 'mk';
      Object.assign(m.style, {left: '5px', top: (cy - 0.75) + 'px', width: '40px', height: '1.5px', background: color});
      box.appendChild(m);
    } else if (kind === 'dot') {
      const m = document.createElement('div');
      m.className = 'mk';
      Object.assign(m.style, {left: '6px', top: (cy - 2.5) + 'px', width: '5px', height: '5px', borderRadius: '50%', background: color});
      box.appendChild(m);
    }
    const t = document.createElement('span');
    t.className = L.big ? 'big' : 'sm';
    t.textContent = text;
    t.style.top = cy + 'px';
    if (L.big) t.style.left = '50px';
    else if (L.leftText) t.style.left = '51px';
    else t.style.right = '6px';
    if (L.bold) t.style.fontWeight = 'bold';
    box.appendChild(t);
  });
  document.body.appendChild(box);
}
legends.forEach(addLegend);
</script>
</body>
</html>
